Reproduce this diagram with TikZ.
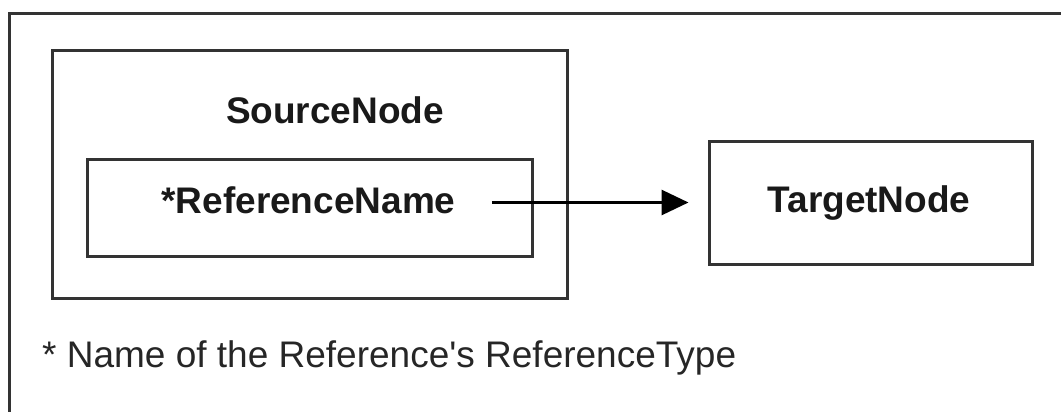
\documentclass[tikz,border=0pt]{standalone}
\usepackage{fontspec}
\setmainfont{Liberation Sans}
\usetikzlibrary{arrows.meta}
\definecolor{edgegray}{HTML}{333333}
\tikzset{
  boxframe/.style={draw=edgegray, line width=3pt, rectangle, inner sep=0pt},
  boldlabel/.style={font=\fontsize{37}{44}\selectfont\bfseries, inner sep=0pt, anchor=base, text=black!90},
  notelabel/.style={font=\fontsize{37}{44}\selectfont, inner sep=0pt, anchor=base west, text=black!85},
  linkarrow/.style={draw=black, line width=3pt, -{Triangle[length=27pt,width=25pt]}}
}
\begin{document}
\begin{tikzpicture}[x=1pt,y=-1pt]
\useasboundingbox (0,0) rectangle (1061,412);
% outer frame (cut off at right and bottom)
\draw[edgegray, line width=3pt] (9,430) -- (9,14) -- (1080,14);
% SourceNode container
\node[boxframe, minimum width=515pt, minimum height=247pt] (source) at (309.5,174.5) {};
\node[boldlabel] (sourcetext) at (335,123) {SourceNode};
% reference box
\node[boxframe, minimum width=445pt, minimum height=97pt] (refbox) at (309.5,207.5) {};
\node[boldlabel] (reftext) at (308.5,213) {*ReferenceName};
% TargetNode
\node[boxframe, minimum width=323pt, minimum height=123pt] (target) at (870.5,202.5) {};
\node[boldlabel] (targettext) at (869,212) {TargetNode};
% connector
\draw[linkarrow, shorten <=36pt, shorten >=19pt] (reftext.east |- target.west) -- (target.west);
% footnote
\node[notelabel] (note) at (42,367) {*\ Name of the Reference\textquotesingle s ReferenceType};
\end{tikzpicture}
\end{document}
